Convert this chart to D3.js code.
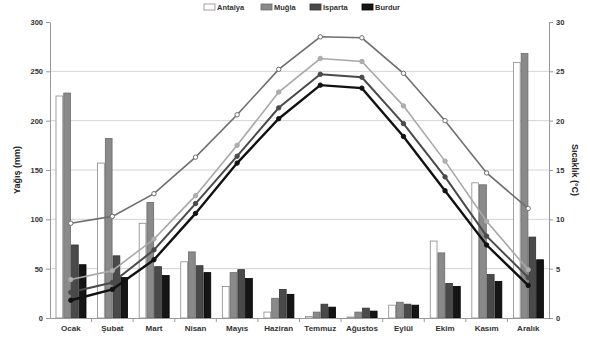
<!DOCTYPE html>
<html>
<head>
<meta charset="utf-8">
<script src="https://cdn.jsdelivr.net/npm/d3@7"></script>
<style>
  html, body { margin: 0; padding: 0; background: #fff; }
  svg { display: block; font-family: "Liberation Sans", Arial, sans-serif; }
</style>
</head>
<body>
<svg id="chart" width="590" height="339"></svg>
<script>
const months = ["Ocak","Şubat","Mart","Nisan","Mayıs","Haziran","Temmuz","Ağustos","Eylül","Ekim","Kasım","Aralık"];
const stations = ["Antalya","Muğla","Isparta","Burdur"];

// Precipitation (mm)
const rainAntalya = [225,157,96,57,32,6,1.5,1,13,78,137,259];
const rainMugla   = [228,182,117,67,46,20,6,6,16,66,135,268];
const rainIsparta = [74,63,52,53,49,29,14,10,14,35,44,82];
const rainBurdur  = [54,41,43,46,40,24,11,7,13,32,37,59];

// Temperature (°C)
const tempAntalya = [9.6,10.3,12.6,16.3,20.6,25.2,28.5,28.4,24.8,20.0,14.7,11.1];
const tempMugla   = [3.9,4.8,8.0,12.4,17.5,22.9,26.3,26.0,21.5,15.9,9.8,4.9];
const tempIsparta = [2.6,3.6,6.9,11.6,16.4,21.3,24.7,24.4,19.7,14.3,8.3,4.1];
const tempBurdur  = [1.8,2.9,5.9,10.6,15.7,20.2,23.6,23.3,18.4,12.9,7.4,3.3];

const leftTicks = [0,50,100,150,200,250,300];
const rightTicks = [0,5,10,15,20,25,30];

const rainSeries = [rainAntalya, rainMugla, rainIsparta, rainBurdur];
const tempSeries = [tempAntalya, tempMugla, tempIsparta, tempBurdur];

const barFill = ["#ffffff", "#8a8a8a", "#4a4a4a", "#151515"];
const barStroke = ["#8a8a8a", "#6a6a6a", "#333333", "#000000"];
const lineColor = ["#6e6e6e", "#a8a8a8", "#4a4a4a", "#111111"];
const lineWidth = [1.6, 1.6, 2, 2.4];
const markerFill = ["#ffffff", "#b0b0b0", "#4a4a4a", "#111111"];

const svg = d3.select("#chart");
const L = 50, R = 549, T = 22, B = 318;

const x = d3.scaleBand().domain(months).range([L, R]).padding(0);
const x1 = d3.scaleBand().domain(stations).range([5.5, 36.5]).padding(0);
const yL = d3.scaleLinear().domain([0, 300]).range([B, T]);
const yR = d3.scaleLinear().domain([0, 30]).range([B, T]);

// gridlines
svg.append("g").selectAll("line")
  .data(leftTicks.filter(d => d > 0 && d < 300))
  .join("line")
  .attr("x1", L).attr("x2", R)
  .attr("y1", d => yL(d)).attr("y2", d => yL(d))
  .attr("stroke", "#d4d4d4").attr("stroke-width", 1);

// bars
const groups = svg.append("g").selectAll("g")
  .data(months)
  .join("g")
  .attr("transform", d => `translate(${x(d)},0)`);

groups.selectAll("rect")
  .data((m, i) => stations.map((s, k) => ({ s, k, v: rainSeries[k][i] })))
  .join("rect")
  .attr("x", d => x1(d.s) + 0.5)
  .attr("y", d => yL(d.v))
  .attr("width", x1.bandwidth() - 1)
  .attr("height", d => B - yL(d.v))
  .attr("fill", d => barFill[d.k])
  .attr("stroke", d => barStroke[d.k])
  .attr("stroke-width", 0.8);

// lines
const line = d3.line()
  .x((d, i) => x(months[i]) + x.bandwidth() / 2)
  .y(d => yR(d));

tempSeries.forEach((ser, k) => {
  svg.append("path")
    .datum(ser)
    .attr("d", line)
    .attr("fill", "none")
    .attr("stroke", lineColor[k])
    .attr("stroke-width", lineWidth[k]);
  svg.append("g").selectAll("circle")
    .data(ser)
    .join("circle")
    .attr("cx", (d, i) => x(months[i]) + x.bandwidth() / 2)
    .attr("cy", d => yR(d))
    .attr("r", 2.2)
    .attr("fill", markerFill[k])
    .attr("stroke", lineColor[k])
    .attr("stroke-width", 1);
});

// axes
const axL = svg.append("g").attr("transform", `translate(${L},0)`)
  .call(d3.axisLeft(yL).tickValues(leftTicks).tickSize(4).tickSizeOuter(0));
const axR = svg.append("g").attr("transform", `translate(${R},0)`)
  .call(d3.axisRight(yR).tickValues(rightTicks).tickSize(4).tickSizeOuter(0));
const axB = svg.append("g").attr("transform", `translate(0,${B})`)
  .call(d3.axisBottom(x).tickSize(0).tickSizeOuter(0));

[axL, axR, axB].forEach(a => {
  a.select(".domain").attr("stroke", "#999").attr("stroke-width", 1);
  a.selectAll(".tick line").attr("stroke", "#999");
  a.selectAll("text").attr("fill", "#333").attr("font-size", 7.5)
    .attr("font-weight", "bold").attr("font-family", "'Liberation Sans', Arial, sans-serif");
});
axB.selectAll("text").attr("dy", "1.25em").attr("font-size", 8);

// category separator ticks
svg.append("g").selectAll("line")
  .data(months.slice(1))
  .join("line")
  .attr("x1", d => x(d)).attr("x2", d => x(d))
  .attr("y1", B).attr("y2", B + 4)
  .attr("stroke", "#999");

// axis titles
svg.append("text")
  .attr("transform", `translate(20,${(T + B) / 2}) rotate(-90)`)
  .attr("text-anchor", "middle")
  .attr("font-size", 9).attr("font-weight", "bold").attr("fill", "#222")
  .text("Yağış (mm)");
svg.append("text")
  .attr("transform", `translate(572,${(T + B) / 2}) rotate(90)`)
  .attr("text-anchor", "middle")
  .attr("font-size", 9).attr("font-weight", "bold").attr("fill", "#222")
  .text("Sıcaklık (°C)");

// legend
const legX = [204, 261, 310, 362];
const leg = svg.append("g");
stations.forEach((s, k) => {
  leg.append("rect")
    .attr("x", legX[k]).attr("y", 4).attr("width", 11).attr("height", 6)
    .attr("fill", barFill[k]).attr("stroke", barStroke[k]).attr("stroke-width", 0.8);
  leg.append("text")
    .attr("x", legX[k] + 13).attr("y", 10)
    .attr("font-size", 7.5).attr("font-weight", "bold").attr("fill", "#333")
    .text(s);
});
</script>
</body>
</html>
